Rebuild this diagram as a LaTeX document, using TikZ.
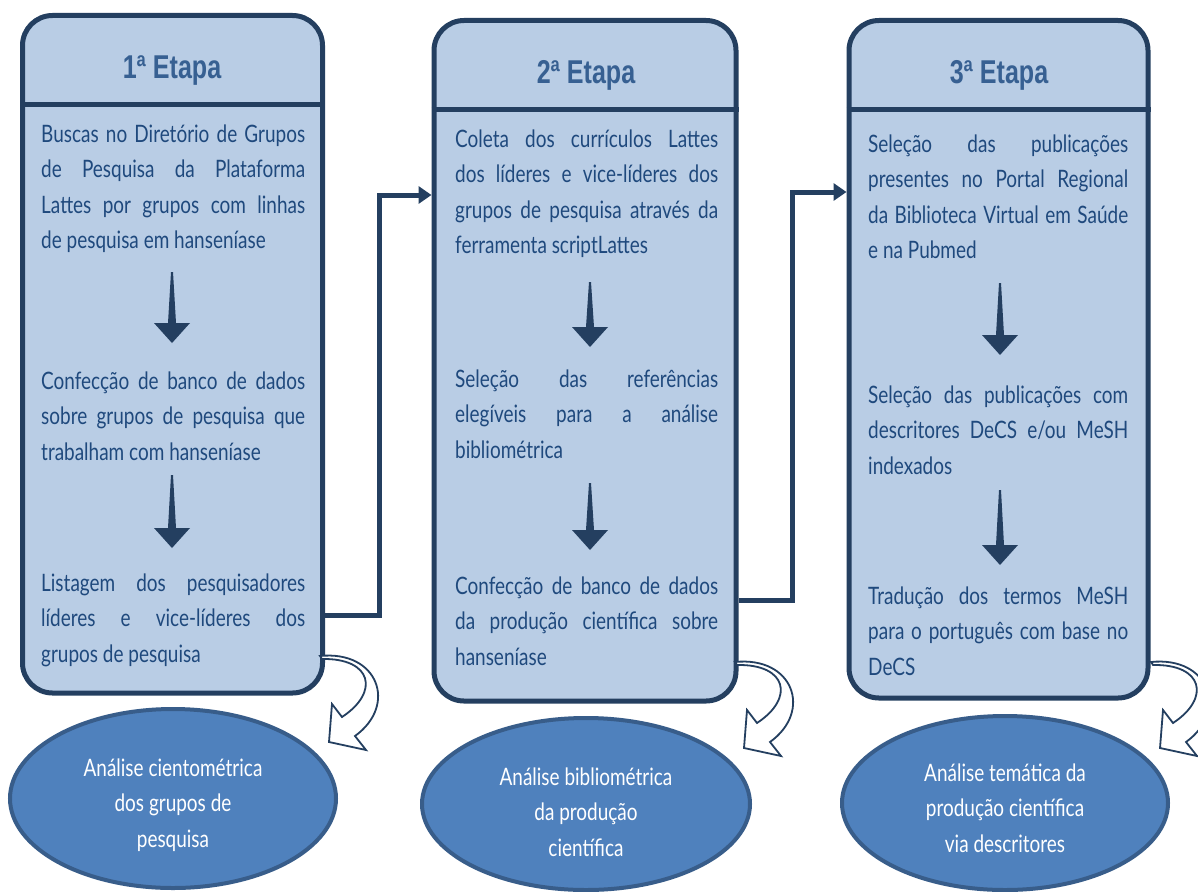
\documentclass[tikz,border=0pt]{standalone}
\usepackage{fontspec}
\setmainfont{Lato}[FakeStretch=0.79]
\newfontfamily\titlefont{Liberation Sans}[FakeStretch=0.76]
\usetikzlibrary{shapes.geometric,arrows.meta}
\definecolor{navy}{HTML}{243F60}
\definecolor{boxfill}{HTML}{B9CDE5}
\definecolor{bodytext}{HTML}{1F497D}
\definecolor{titletext}{HTML}{376092}
\definecolor{ellfill}{HTML}{4F81BD}
\definecolor{elldraw}{HTML}{385D8A}
\newlength\jw
\newcommand\jl[1]{\makebox[\jw][s]{#1}}
\newcommand\stemarrow[4]{\fill[navy] (#1-1,#2) -- (#1+1,#2) -- (#1+4,#3) -- (#1+18,#3) -- (#1,#4) -- (#1-18,#3) -- (#1-4,#3) -- cycle;}
\begin{document}
\begin{tikzpicture}[x=1pt,y=-1pt,
  stage/.style={draw=navy, line width=5pt, fill=boxfill, rounded corners=30pt, inner sep=0pt},
  divider/.style={draw=navy, line width=5pt},
  ttl/.style={font=\titlefont\bfseries\fontsize{33}{36}\selectfont, text=titletext, anchor=base, inner sep=0pt},
  body/.style={font=\fontsize{24}{35.5}\selectfont, text=bodytext, align=left, anchor=north west, inner sep=0pt},
  conn/.style={draw=navy, line width=5pt, -{Triangle[length=13pt,width=17pt]}},
  result/.style={ellipse, draw=elldraw, line width=4pt, fill=ellfill, inner sep=0pt},
  restext/.style={font=\fontsize{24}{35.5}\selectfont, text=white, align=center, inner sep=0pt},
  curv/.style={draw=navy, line width=1.8pt, fill=white, line join=miter}]
\useasboundingbox[fill=white] (0,0) rectangle (1198,891);

% stage boxes
\node[stage, minimum width=300pt, minimum height=677.5pt] (box1) at (172.5,354.25) {};
\node[stage, minimum width=302pt, minimum height=680.5pt] (box2) at (585,360.75) {};
\node[stage, minimum width=299pt, minimum height=677.5pt] (box3) at (998.5,359.25) {};
\coordinate (h1) at (0,104);
\coordinate (h2) at (0,109);
\draw[divider] (box1.west |- h1) -- (box1.east |- h1);
\draw[divider] (box2.west |- h2) -- (box2.east |- h2);
\draw[divider] (box3.west |- h2) -- (box3.east |- h2);

\node[ttl] (t1) at (172,78) {1ª Etapa};
\node[ttl] (t2) at (586,83) {2ª Etapa};
\node[ttl] (t3) at (999,83) {3ª Etapa};

% box 1 texts
\setlength\jw{264pt}
\node[body] (p11) at (41,117.15) {\strut\jl{Buscas no Diretório de Grupos}\\\jl{de Pesquisa da Plataforma}\\\jl{Lattes por grupos com linhas}\\de pesquisa em hanseníase};
\node[body] (p12) at (41,364.15) {\strut\jl{Confecção de banco de dados}\\\jl{sobre grupos de pesquisa que}\\trabalham com hanseníase};
\node[body] (p13) at (41,566.15) {\strut\jl{Listagem dos pesquisadores}\\\jl{líderes e vice-líderes dos}\\grupos de pesquisa};

% box 2 texts
\setlength\jw{263pt}
\node[body] (p21) at (455,122.15) {\strut\jl{Coleta dos currículos Lattes}\\\jl{dos líderes e vice-líderes dos}\\\jl{grupos de pesquisa através da}\\ferramenta scriptLattes};
\node[body] (p22) at (455,362.15) {\strut\jl{Seleção das referências}\\\jl{elegíveis para a análise}\\bibliométrica};
\node[body] (p23) at (455,569.15) {\strut\jl{Confecção de banco de dados}\\\jl{da produção científica sobre}\\hanseníase};

% box 3 texts
\setlength\jw{260pt}
\node[body] (p31) at (868,127.15) {\strut\jl{Seleção das publicações}\\\jl{presentes no Portal Regional}\\\jl{da Biblioteca Virtual em Saúde}\\e na Pubmed};
\node[body] (p32) at (868,378.15) {\strut\jl{Seleção das publicações com}\\\jl{descritores DeCS e/ou MeSH}\\indexados};
\node[body] (p33) at (868,579.15) {\strut\jl{Tradução dos termos MeSH}\\\jl{para o português com base no}\\DeCS};

% down arrows
\stemarrow{172}{272}{323}{343}
\stemarrow{172}{475}{528}{548}
\stemarrow{590}{282}{327}{347}
\stemarrow{590}{483}{530}{550}
\stemarrow{1000}{283}{335}{355}
\stemarrow{1000}{490}{545}{565}

% connectors between stages
\coordinate (j1a) at (379,615);
\coordinate (j1b) at (379,195);
\draw[conn] (box1.east |- j1a) -- (j1a) -- (j1b) -- (box2.west |- j1b);
\coordinate (j2a) at (792,600);
\coordinate (j2b) at (792,192);
\draw[conn] (box2.east |- j2a) -- (j2a) -- (j2b) -- (box3.west |- j2b);

% result ellipses
\node[result, minimum width=326pt, minimum height=179pt] (e1) at (173,798.5) {};
\node[result, minimum width=328pt, minimum height=172pt] (e2) at (586,804) {};
\node[result, minimum width=326pt, minimum height=174pt] (e3) at (1005,803) {};
\node[restext] (r1) at (173,805) {Análise cientométrica\\dos grupos de\\pesquisa};
\node[restext] (r2) at (586,812) {Análise bibliométrica\\da produção\\científica};
\node[restext] (r3) at (1005,808) {Análise temática da\\produção científica\\via descritores};

% curved arrows
\draw[curv] (320,656) .. controls (378,650) and (398,705) .. (355,736) -- (366,750) -- (329,742) -- (332,704) -- (342,717) .. controls (380,692) and (372,658) .. (322,659) -- cycle;
\begin{scope}[shift={(415,6)}]
\draw[curv] (320,656) .. controls (378,650) and (398,705) .. (355,736) -- (366,750) -- (329,742) -- (332,704) -- (342,717) .. controls (380,692) and (372,658) .. (322,659) -- cycle;
\end{scope}
\begin{scope}[shift={(831,6)}]
\draw[curv] (320,656) .. controls (378,650) and (398,705) .. (355,736) -- (366,750) -- (329,742) -- (332,704) -- (342,717) .. controls (380,692) and (372,658) .. (322,659) -- cycle;
\end{scope}
\end{tikzpicture}
\end{document}
